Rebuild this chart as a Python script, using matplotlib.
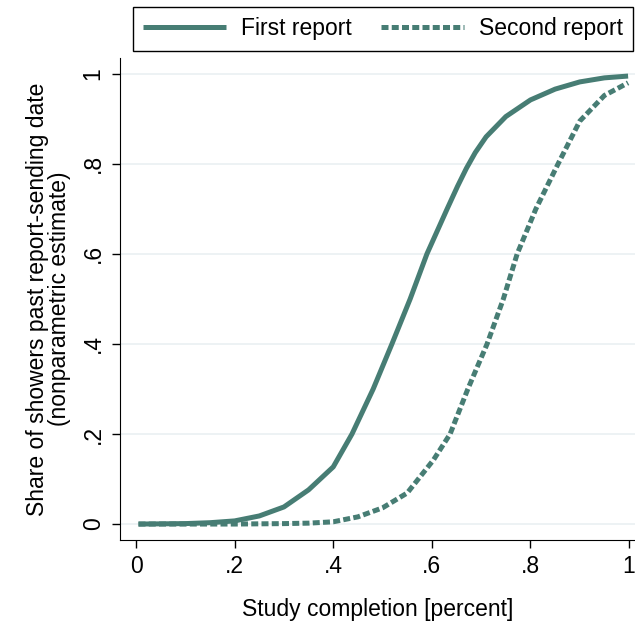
import matplotlib.pyplot as plt

# data -----------------------------------------------------------
x_first = [0.005, 0.1, 0.15, 0.2, 0.25, 0.3, 0.35, 0.4, 0.438, 0.481, 0.519, 0.556, 0.59,
           0.631, 0.652, 0.67, 0.688, 0.71, 0.75, 0.8, 0.85, 0.9, 0.95, 0.998]
y_first = [0.0, 0.001, 0.003, 0.007, 0.018, 0.038, 0.076, 0.127, 0.2, 0.3, 0.4, 0.5, 0.6,
           0.7, 0.75, 0.79, 0.825, 0.86, 0.905, 0.942, 0.966, 0.982, 0.991, 0.995]

x_second = [0.005, 0.2, 0.3, 0.35, 0.4, 0.45, 0.5, 0.55, 0.603, 0.637, 0.673, 0.712, 0.745,
            0.773, 0.811, 0.856, 0.9, 0.95, 0.998]
y_second = [0.0, 0.0, 0.001, 0.002, 0.005, 0.016, 0.036, 0.069, 0.142, 0.2, 0.3, 0.4, 0.5,
            0.6, 0.7, 0.8, 0.895, 0.952, 0.98]

xticks = [0, 0.2, 0.4, 0.6, 0.8, 1]
yticks = [0, 0.2, 0.4, 0.6, 0.8, 1]
tick_labels = ['0', '.2', '.4', '.6', '.8', '1']

# plot ------------------------------------------------------------
plt.rcParams['font.family'] = ['Liberation Sans', 'DejaVu Sans']
col = '#477d74'
fs = 16.5

fig = plt.figure(figsize=(6.35, 6.28), dpi=100)
ax = fig.add_axes([0.189, 0.140, 0.811, 0.768])

for y in yticks:
    ax.axhline(y, color='#eaf0f2', lw=1.2, zorder=0)

l1, = ax.plot(x_first, y_first, color=col, lw=3.6, solid_capstyle='butt',
              solid_joinstyle='round', label='First report')
l2, = ax.plot(x_second, y_second, color=col, lw=3.6, dashes=(1.4, 0.65), dash_capstyle='butt',
              label='Second report')

ax.set_xlim(-0.0325, 1.012)
ax.set_ylim(-0.0356, 1.0356)
ax.set_xticks(xticks)
ax.set_xticklabels(tick_labels)
ax.set_yticks(yticks)
ax.set_yticklabels(tick_labels, rotation=90, va='center')
ax.tick_params(labelsize=fs, length=6, width=1, direction='out', pad=5)
ax.spines['top'].set_visible(False)
ax.spines['right'].set_visible(False)
ax.set_xlabel('Study completion [percent]', fontsize=fs, labelpad=14)
ax.set_ylabel('Share of showers past report-sending date\n(nonparametric estimate)', fontsize=fs,
              labelpad=8, linespacing=0.95)

fig.legend(handles=[l1, l2], loc='upper right', bbox_to_anchor=(0.997, 0.989), ncol=2,
           fontsize=fs, frameon=True, fancybox=False, edgecolor='black', framealpha=1,
           handlelength=3.6, columnspacing=1.3, borderpad=0.45, handletextpad=0.65,
           borderaxespad=0)

plt.savefig('out.png', dpi=100)
